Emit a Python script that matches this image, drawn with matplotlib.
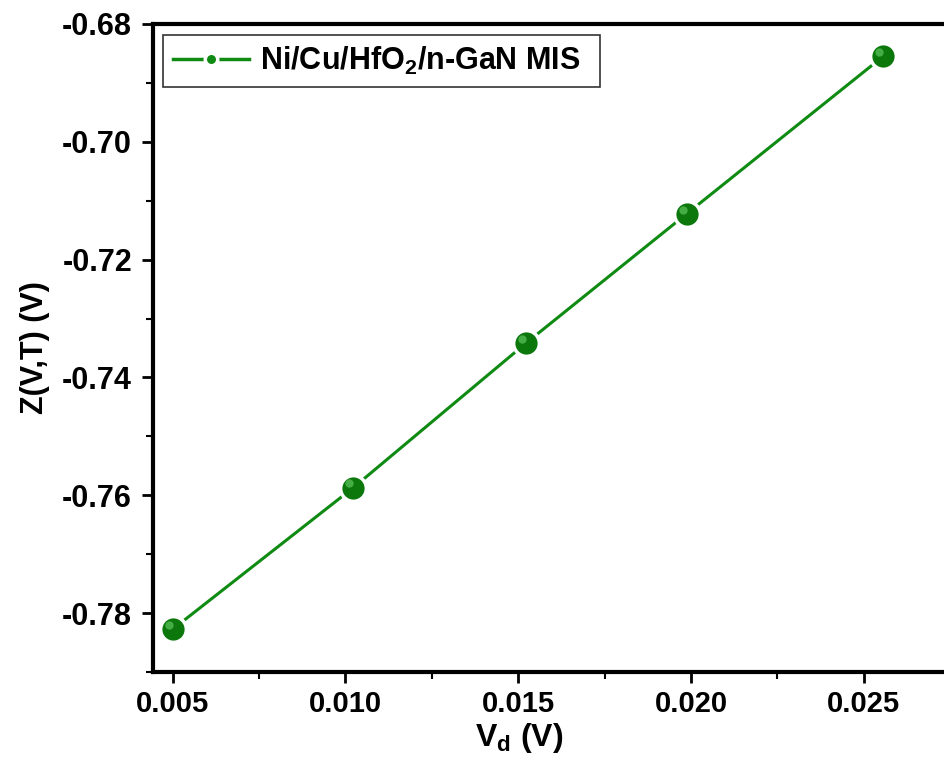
import numpy as np
import matplotlib
matplotlib.use('Agg')
from matplotlib import pyplot as plt
from matplotlib.ticker import MultipleLocator, FormatStrFormatter
import matplotlib.transforms as mtransforms

# data
vd = [0.00501, 0.01023, 0.01522, 0.01988, 0.02556]
zvt = [-0.7827, -0.7587, -0.7342, -0.7122, -0.6855]
series_label = r'Ni/Cu/HfO$_2$/n-GaN MIS'

plt.rcParams['font.family'] = ['Liberation Sans', 'DejaVu Sans']
plt.rcParams['font.weight'] = 'bold'
plt.rcParams['mathtext.fontset'] = 'custom'
plt.rcParams['mathtext.rm'] = 'Liberation Sans:bold'
plt.rcParams['mathtext.it'] = 'Liberation Sans:bold'
plt.rcParams['mathtext.bf'] = 'Liberation Sans:bold'

green = '#0f8a12'

fig = plt.figure(figsize=(9.44, 7.69), dpi=100)
# right edge of the frame falls outside the picture, like the reference
ax = fig.add_axes([0.162, 0.1261, 0.8555, 0.8427])

ax.plot(vd, zvt, '-', color=green, lw=2.2, marker='o', ms=17,
        mfc=green, mec='white', mew=4, label=series_label + '  ', zorder=3)
ax.plot(vd, zvt, 'o', color='#0c780c', ms=16, mew=0, zorder=4)
# small highlight to give the shaded look
shift = mtransforms.ScaledTranslation(-3/72, 3/72, fig.dpi_scale_trans)
ax.plot(vd, zvt, 'o', color='#5cc45c', ms=6, mew=0, alpha=0.7,
        transform=ax.transData + shift, zorder=5)

ax.set_xlim(0.00443, 0.0278)
ax.set_ylim(-0.79, -0.68)
ax.xaxis.set_major_locator(MultipleLocator(0.005))
ax.xaxis.set_minor_locator(MultipleLocator(0.0025))
ax.yaxis.set_major_locator(MultipleLocator(0.02))
ax.yaxis.set_minor_locator(MultipleLocator(0.01))
ax.xaxis.set_major_formatter(FormatStrFormatter('%.3f'))
ax.yaxis.set_major_formatter(FormatStrFormatter('%.2f'))

for s in ax.spines.values():
    s.set_linewidth(3)
ax.tick_params(which='major', direction='out', length=8, width=2)
ax.tick_params(which='minor', direction='out', length=5, width=1.5)
ax.tick_params(axis='x', pad=5, labelsize=21)
ax.tick_params(axis='y', pad=7, labelsize=22)
for lab in ax.get_xticklabels() + ax.get_yticklabels():
    lab.set_fontweight('bold')

ax.set_xlabel(r'V$_d$ (V)', fontsize=23, fontweight='bold')
ax.set_ylabel('Z(V,T) (V)', fontsize=22, fontweight='bold')
ax.xaxis.set_label_coords(0.454, -0.075)
ax.yaxis.set_label_coords(-0.128, 0.5)

leg = ax.legend(loc='upper left', fontsize=22, frameon=True, fancybox=False,
                handlelength=2.5, handletextpad=0.35, borderpad=0.32,
                borderaxespad=0, bbox_to_anchor=(0.0125, 0.983))
leg.get_frame().set_edgecolor('black')
leg.get_frame().set_linewidth(1.2)
h = leg.legend_handles[0]
h.set_markersize(9)
h.set_linewidth(2.5)
h.set_markeredgecolor('white')
h.set_markeredgewidth(2.5)
for t in leg.get_texts():
    t.set_fontweight('bold')

fig.savefig('out.png', dpi=100)
